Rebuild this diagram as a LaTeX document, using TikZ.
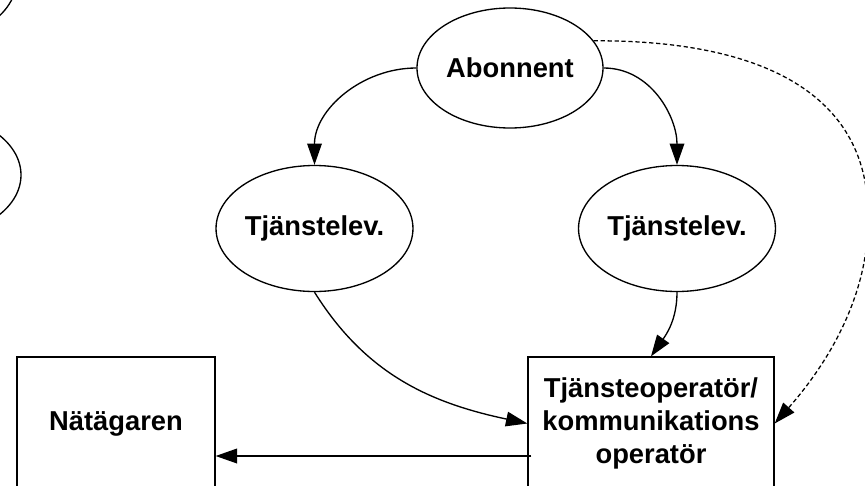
\documentclass[tikz,border=0pt]{standalone}
\usepackage{fontspec}
\setmainfont{Liberation Sans}
\usetikzlibrary{arrows.meta,shapes.geometric}
\begin{document}
\begin{tikzpicture}[x=0.75pt,y=-0.75pt,
 lbl/.style={font=\fontsize{20.5}{25}\selectfont\bfseries, align=center},
 ell/.style={ellipse, draw, line width=1pt, inner sep=0pt, minimum width=139.5pt, minimum height=94.5pt, lbl},
 box/.style={rectangle, draw, line width=1pt, inner sep=0pt, minimum height=99.75pt, lbl},
 arr/.style={line width=1pt, -{Triangle[length=16pt,width=11pt]}},
 darr/.style={line width=0.95pt, dash pattern=on 3.2pt off 2pt, -{Triangle[length=16pt,width=11pt]}},
 partial/.style={draw, line width=1pt}]
\useasboundingbox (0,0) rectangle (865,486);
\clip (0,0) rectangle (865,486);
% partial shapes cut by the left edge
\path[partial] (-72,175) ellipse [x radius=93, y radius=62];
\path[partial] (-76.5,-20) ellipse [x radius=93, y radius=62];
% nodes
\node[ell, minimum height=90pt] (ab) at (510,68) {Abonnent};
\node[ell] (tl) at (314.5,228.5) {Tjänstelev.};
\node[ell] (tr) at (677,228.5) {Tjänstelev.};
\node[box, minimum width=184.5pt] (op) at (651,423.5) {Tjänsteoperatör/\\kommunikations\\operatör};
\node[box, minimum width=148.5pt] (nat) at (116,423.5) {Nätägaren};
\coordinate (lv) at (0,456);
% connectors
\draw[arr] (ab.west) to[out=180,in=90] (tl.north);
\draw[arr] (ab.east) to[out=0,in=90] (tr.north);
\draw[arr] (tl.south) to[out=-58,in=168] (op.west);
\draw[arr] (tr.south) to[out=-90,in=55] (op.north);
\draw[arr, shorten <=-3pt] (op.west |- lv) -- (nat.east |- lv);
\draw[darr] (ab.18) .. controls (772,40) and (868,100) .. (868,215) .. controls (870,300) and (822,370) .. (op.east);
\end{tikzpicture}
\end{document}
